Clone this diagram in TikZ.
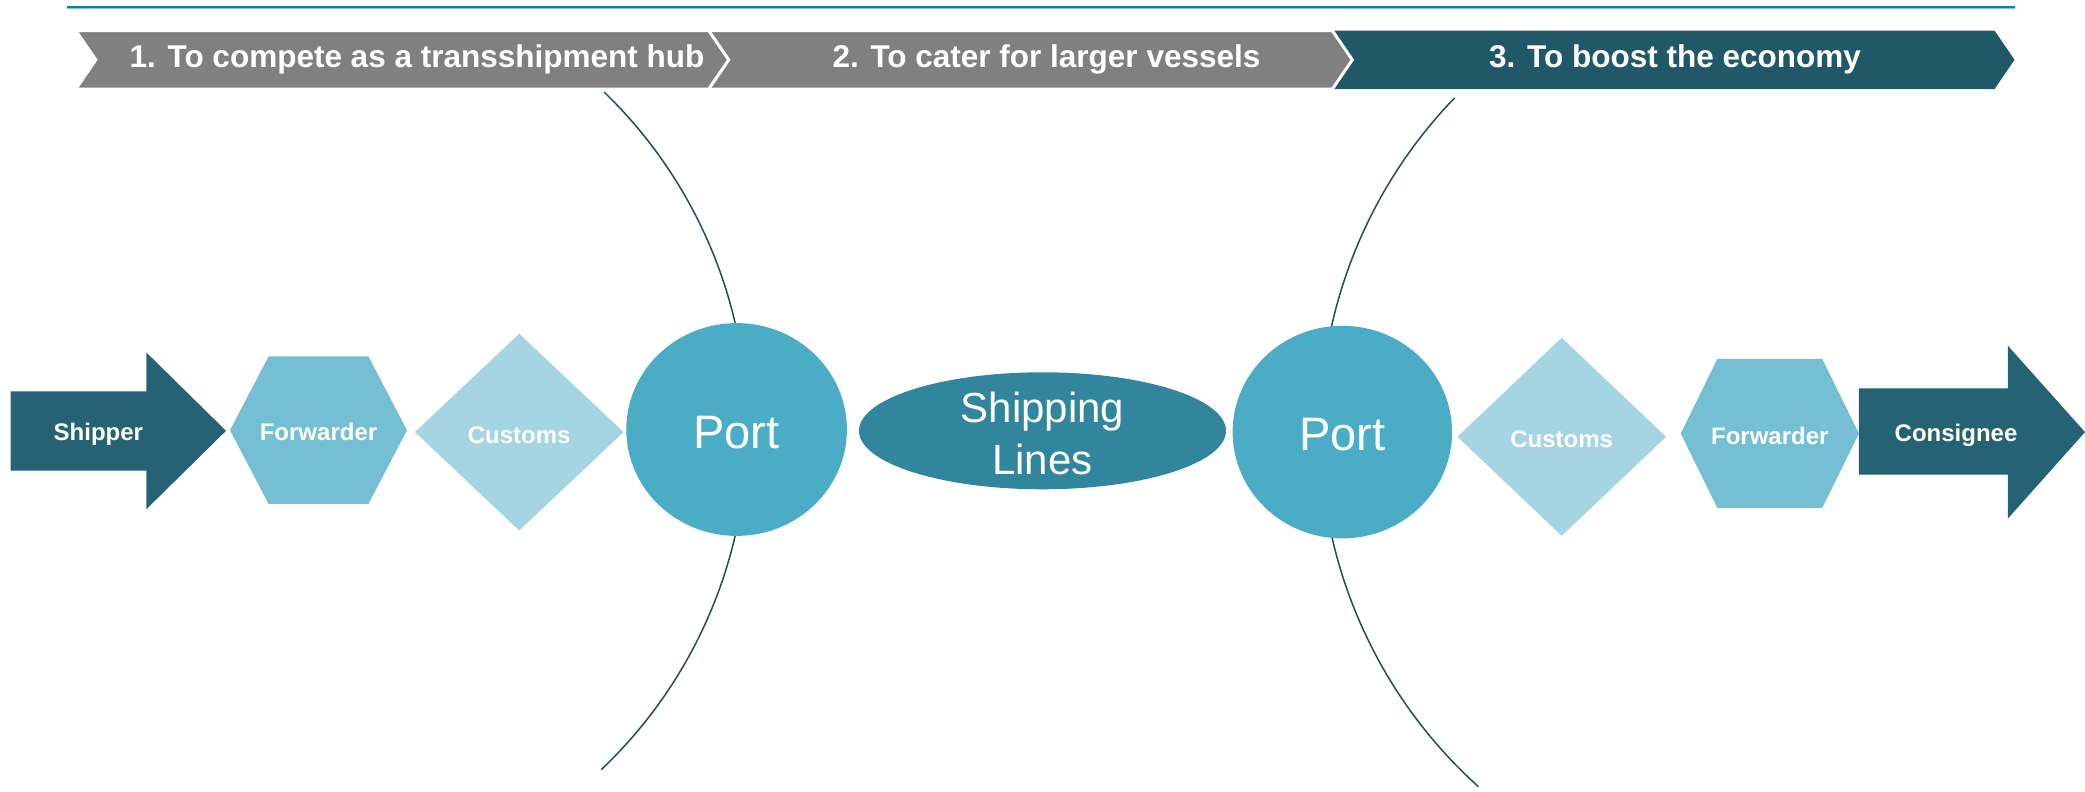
\documentclass[tikz,border=0pt]{standalone}
\usepackage{fontspec}
\setmainfont{Liberation Sans}
\usepackage{xcolor}
\definecolor{darkteal}{RGB}{37,99,116}
\definecolor{hexblue}{RGB}{117,191,212}
\definecolor{diablue}{RGB}{165,213,226}
\definecolor{portblue}{RGB}{75,172,198}
\definecolor{lineblue}{RGB}{49,133,156}
\definecolor{navyteal}{RGB}{33,88,104}
\definecolor{chevgray}{RGB}{128,128,128}
\definecolor{arcteal}{RGB}{31,78,95}
\definecolor{ruleblue}{RGB}{23,125,160}
\definecolor{rulelight}{RGB}{120,200,225}

\begin{document}
\begin{tikzpicture}[x=1pt,y=1pt,
  lbl/.style={text=white,font=\fontsize{24}{28}\selectfont\bfseries},
  chev/.style={text=white,font=\fontsize{31.5}{36}\selectfont\bfseries},
  big/.style={text=white,font=\fontsize{47}{52}\selectfont,align=center}]
\useasboundingbox (0,0) rectangle (2085,792);
% rule on top
\draw[ruleblue,line width=2.5](66.5,785)--(2014.5,785);
\draw[rulelight,line width=1](66.5,783)--(2014.5,783);
% chevrons
\fill[navyteal](1328.4,761.4)--(1994.5,761.4)--(2014.5,732.2)--(1994.5,702.9)--(1328.4,702.9)--(1348.4,732.2)--cycle;
\filldraw[chevgray,draw=white,line width=3](700.7,761.4)--(1332.3,761.4)--(1352.3,732.2)--(1332.3,702.9)--(700.7,702.9)--(720.7,732.2)--cycle;
\filldraw[chevgray,draw=white,line width=3](75.8,761.4)--(708.7,761.4)--(728.7,732.2)--(708.7,702.9)--(75.8,702.9)--(95.8,732.2)--cycle;
\node[chev] (goal1) at (417,732.2) {1. To compete as a transshipment hub};
\node[chev] (goal2) at (1046.5,732.2) {2. To cater for larger vessels};
\node[chev] (goal3) at (1675,732.2) {3. To boost the economy};
% arcs
\draw[arcteal,line width=1.5](278.4,362.5)++(-46.5:469) arc (-46.5:46:469);
\draw[arcteal,line width=1.5](1799,361.2)++(136:479) arc (136:228:479);
% chain of shapes
\fill[darkteal](10.6,321.3)--(146.3,321.3)--(146.3,282.7)--(226,361.2)--(146.3,439.6)--(146.3,400.7)--(10.6,400.7)--cycle;
\fill[hexblue](230,361.8)--(268.6,435.6)--(368.4,435.6)--(407,361.8)--(368.4,288)--(268.6,288)--cycle;
\fill[diablue](414.9,359.9)--(519.2,458.3)--(623.6,359.9)--(519.2,261.5)--cycle;
\fill[portblue](736.6,362.5) ellipse (110.3 and 106.4);
\fill[lineblue](1042.5,361.2) ellipse (183.5 and 58.5);
\fill[portblue](1342.3,359.9) ellipse (109.7 and 106.3);
\fill[diablue](1457.4,355.2)--(1561.7,454.3)--(1666.1,355.2)--(1561.7,256.1)--cycle;
\fill[hexblue](1680.7,358.5)--(1717.3,433)--(1822.3,433)--(1858.9,358.5)--(1822.3,284.1)--(1717.3,284.1)--cycle;
\fill[darkteal](1858.9,317.3)--(2007.8,317.3)--(2007.8,273.4)--(2085,359.9)--(2007.8,446.3)--(2007.8,403.7)--(1858.9,403.7)--cycle;
% labels
\node[lbl] (shipper) at (98.4,358) {Shipper};
\node[lbl] (fwdL) at (318.5,360) {Forwarder};
\node[lbl] (cusL) at (519.2,357) {Customs};
\node[big] (portL) at (736.6,359) {Port};
\node[big,font=\fontsize{42}{52}\selectfont] (ship) at (1042.5,359) {Shipping\\Lines};
\node[big] (portR) at (1342.3,357) {Port};
\node[lbl] (cusR) at (1561.7,353) {Customs};
\node[lbl] (fwdR) at (1769.8,356) {Forwarder};
\node[lbl] (cons) at (1956,357) {Consignee};
\end{tikzpicture}
\end{document}
